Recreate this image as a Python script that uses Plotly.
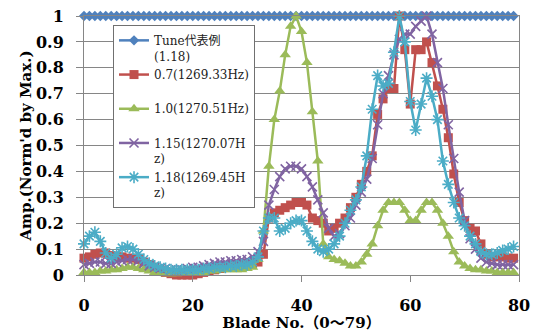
import plotly.graph_objects as go

# Blade numbers 0..79
blade = list(range(80))

# Normalised amplitude per blade for each mode (Norm'd by Max.)
tune_amp = [
    1.0, 1.0, 1.0, 1.0, 1.0, 1.0, 1.0, 1.0, 1.0, 1.0,
    1.0, 1.0, 1.0, 1.0, 1.0, 1.0, 1.0, 1.0, 1.0, 1.0,
    1.0, 1.0, 1.0, 1.0, 1.0, 1.0, 1.0, 1.0, 1.0, 1.0,
    1.0, 1.0, 1.0, 1.0, 1.0, 1.0, 1.0, 1.0, 1.0, 1.0,
    1.0, 1.0, 1.0, 1.0, 1.0, 1.0, 1.0, 1.0, 1.0, 1.0,
    1.0, 1.0, 1.0, 1.0, 1.0, 1.0, 1.0, 1.0, 1.0, 1.0,
    1.0, 1.0, 1.0, 1.0, 1.0, 1.0, 1.0, 1.0, 1.0, 1.0,
    1.0, 1.0, 1.0, 1.0, 1.0, 1.0, 1.0, 1.0, 1.0, 1.0,
]

amp_07 = [
    0.065, 0.07, 0.08, 0.085, 0.085, 0.075, 0.07, 0.07, 0.065, 0.065,
    0.06, 0.05, 0.04, 0.03, 0.02, 0.01, 0.005, 0.0, 0.0, 0.0,
    0.0, 0.005, 0.01, 0.015, 0.02, 0.025, 0.03, 0.03, 0.035, 0.04,
    0.04, 0.045, 0.05, 0.08, 0.22, 0.24, 0.25, 0.26, 0.27, 0.28,
    0.28, 0.27, 0.22, 0.21, 0.20, 0.17, 0.18, 0.20, 0.22, 0.26,
    0.30, 0.35, 0.40, 0.46, 0.62, 0.68, 0.72, 0.72, 1.0, 0.87,
    0.66, 0.87, 0.87, 0.90, 0.82, 0.73, 0.64, 0.53, 0.39, 0.28,
    0.21, 0.18, 0.17, 0.12, 0.08, 0.07, 0.07, 0.07, 0.065, 0.065,
]

amp_10 = [
    0.01, 0.01, 0.01, 0.015, 0.015, 0.02, 0.02, 0.025, 0.03, 0.03,
    0.025, 0.02, 0.015, 0.01, 0.01, 0.005, 0.005, 0.005, 0.01, 0.01,
    0.01, 0.01, 0.01, 0.015, 0.015, 0.02, 0.02, 0.02, 0.02, 0.02,
    0.025, 0.03, 0.06, 0.17, 0.42, 0.60, 0.71, 0.85, 0.96, 1.0,
    0.94, 0.82, 0.63, 0.44, 0.12, 0.07, 0.06, 0.055, 0.045, 0.035,
    0.035, 0.05, 0.08, 0.12, 0.19, 0.25, 0.28, 0.28, 0.28, 0.25,
    0.21, 0.21, 0.25, 0.28, 0.28, 0.25, 0.20, 0.15, 0.09, 0.05,
    0.035, 0.025, 0.02, 0.02, 0.015, 0.015, 0.01, 0.01, 0.01, 0.01,
]

amp_115 = [
    0.04, 0.045, 0.05, 0.05, 0.045, 0.045, 0.05, 0.055, 0.06, 0.06,
    0.055, 0.045, 0.035, 0.03, 0.025, 0.025, 0.02, 0.02, 0.02, 0.025,
    0.03, 0.03, 0.035, 0.04, 0.045, 0.05, 0.05, 0.055, 0.055, 0.06,
    0.06, 0.07, 0.09, 0.13, 0.27, 0.33, 0.38, 0.41, 0.42, 0.42,
    0.41, 0.38, 0.34, 0.29, 0.24, 0.18, 0.15, 0.16, 0.19, 0.22,
    0.27, 0.32, 0.37, 0.45, 0.58, 0.70, 0.77, 0.85, 0.91, 0.93,
    0.93, 0.96, 0.98, 1.0, 0.93, 0.82, 0.72, 0.58, 0.45, 0.32,
    0.21, 0.14, 0.10, 0.065, 0.05, 0.045, 0.04, 0.04, 0.04, 0.04,
]

amp_118 = [
    0.12, 0.15, 0.165, 0.13, 0.085, 0.065, 0.08, 0.105, 0.11, 0.10,
    0.08, 0.06, 0.045, 0.035, 0.03, 0.025, 0.02, 0.02, 0.02, 0.02,
    0.02, 0.02, 0.025, 0.025, 0.03, 0.03, 0.03, 0.035, 0.035, 0.04,
    0.04, 0.05, 0.07, 0.17, 0.22, 0.22, 0.17, 0.18, 0.20, 0.21,
    0.21, 0.17, 0.13, 0.10, 0.09, 0.10, 0.12, 0.15, 0.20, 0.25,
    0.29, 0.34, 0.46, 0.64, 0.77, 0.73, 0.74, 0.86, 1.0, 0.90,
    0.67, 0.56, 0.66, 0.76, 0.69, 0.60, 0.44, 0.35, 0.28, 0.22,
    0.19, 0.15, 0.12, 0.09, 0.08, 0.08, 0.085, 0.095, 0.10, 0.11,
]

series_names = [
    "Tune代表例<br>(1.18)",
    "0.7(1269.33Hz)<br> ",
    "1.0(1270.51Hz)<br> ",
    "1.15(1270.07H<br>z)",
    "1.18(1269.45H<br>z)",
]
series_values = [tune_amp, amp_07, amp_10, amp_115, amp_118]
series_colors = ["#4F81BD", "#C0504D", "#9BBB59", "#8064A2", "#4BACC6"]
series_markers = [
    dict(symbol="diamond", size=8),
    dict(symbol="square", size=9),
    dict(symbol="triangle-up", size=10),
    dict(symbol="x-thin-open", size=9, line=dict(width=1.6)),
    dict(symbol="asterisk-open", size=10, line=dict(width=1.6)),
]

x_ticks = [0, 20, 40, 60, 80]
y_ticks = [0, 0.1, 0.2, 0.3, 0.4, 0.5, 0.6, 0.7, 0.8, 0.9, 1]
y_tick_text = ["0", "0.1", "0.2", "0.3", "0.4", "0.5", "0.6", "0.7", "0.8", "0.9", "1"]

fig = go.Figure()
for name, vals, col, mk in zip(series_names, series_values, series_colors, series_markers):
    marker = dict(color=col, **mk)
    if "line" in mk:
        marker["line"] = dict(color=col, width=mk["line"]["width"])
    fig.add_trace(go.Scatter(
        x=blade, y=vals, name=name, mode="lines+markers",
        line=dict(color=col, width=2.5),
        marker=marker,
        cliponaxis=False,
    ))

grid_col = "#868686"
serif = "DejaVu Serif, Noto Sans CJK JP"
tick_font = dict(family=serif, size=16, color="black", weight="bold")
title_font = dict(family=serif, size=15, color="black", weight="bold")

fig.update_layout(
    width=537, height=332,
    margin=dict(l=84, r=18, t=16, b=57),
    plot_bgcolor="white", paper_bgcolor="white",
    showlegend=True,
    legend=dict(
        x=0.0667, y=0.965, xanchor="left", yanchor="top",
        bgcolor="white", bordercolor="#707070", borderwidth=1,
        font=dict(family=serif, size=12, color="#222222"),
        itemwidth=30, valign="top", traceorder="normal",
        tracegroupgap=0,
    ),
    xaxis=dict(
        range=[0, 80], tickvals=x_ticks, ticks="outside", ticklen=6,
        tickcolor=grid_col, showline=True, linecolor=grid_col, linewidth=1,
        mirror=True, showgrid=False, zeroline=False, automargin=False,
        tickfont=tick_font, ticklabelstandoff=10,
        title=dict(text="Blade No.（0～79）", font=title_font, standoff=5),
    ),
    yaxis=dict(
        range=[0, 1], tickvals=y_ticks, ticktext=y_tick_text,
        ticks="outside", ticklen=7, tickcolor=grid_col,
        showline=True, linecolor=grid_col, linewidth=1, mirror=True,
        showgrid=True, gridcolor=grid_col, gridwidth=1, zeroline=False,
        automargin=False,
        tickfont=tick_font, ticklabelstandoff=9,
        title=dict(text="Amp.(Norm'd by Max.)", font=title_font, standoff=0),
    ),
)

fig.write_html("out.html")
